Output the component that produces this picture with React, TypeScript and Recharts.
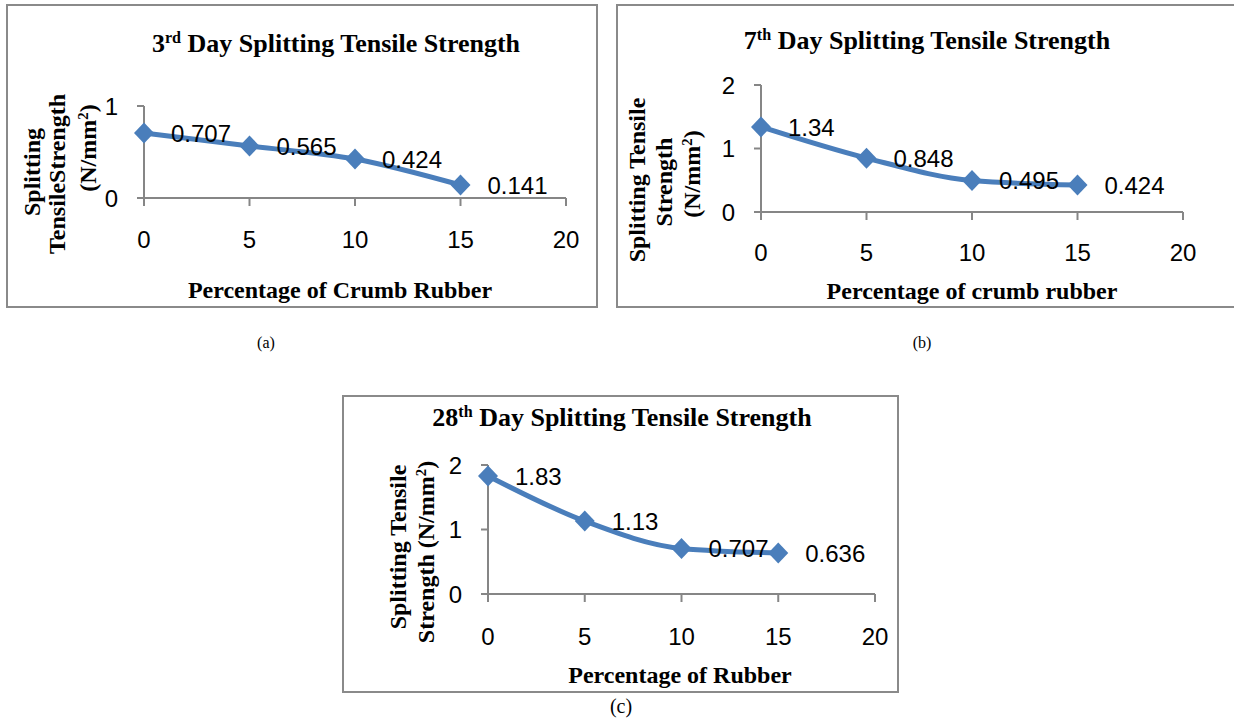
import React from "react";
import { LineChart, Line, XAxis, YAxis, LabelList } from "recharts";

// percentage of crumb rubber (x values)
const rubberPct = [0, 5, 10, 15];
const xTicks = [0, 5, 10, 15, 20];

// splitting tensile strength, N/mm2
const day3 = [0.707, 0.565, 0.424, 0.141];
const day7 = [1.34, 0.848, 0.495, 0.424];
const day28 = [1.83, 1.13, 0.707, 0.636];

const day3Ticks = [0, 1];
const day7Ticks = [0, 1, 2];
const day28Ticks = [0, 1, 2];

const BLUE = "#4a7ebb";
const AXIS = "#868686";
const SANS = "'Liberation Sans', Arial, sans-serif";
const SERIF = "'Liberation Serif', 'Times New Roman', serif";

const toRows = (ys: number[]) => rubberPct.map((x, i) => ({ x, v: ys[i] }));

const Diamond = (props: any) => {
  const { cx, cy } = props;
  if (cx == null || cy == null) return null;
  return (
    <polygon
      points={`${cx},${cy - 10.5} ${cx + 10},${cy} ${cx},${cy + 10.5} ${cx - 10},${cy}`}
      fill={BLUE}
    />
  );
};

const ValueLabel = (props: any) => {
  const { x, y, value } = props;
  return (
    <text x={x + 27} y={y} dy="0.36em" fontSize={24} fontFamily={SANS} fill="#000">
      {value}
    </text>
  );
};

type PanelProps = {
  box: { left: number; top: number; width: number; height: number };
  margin: { top: number; right: number; bottom: number; left: number };
  values: number[];
  yTicks: number[];
  xTickMargin: number;
};

function Panel({ box, margin, values, yTicks, xTickMargin }: PanelProps) {
  const tickStyle = { fill: "#000", fontSize: 24, fontFamily: SANS };
  return (
    <>
      <div
        style={{
          position: "absolute",
          left: box.left,
          top: box.top,
          width: box.width,
          height: box.height,
          border: "2px solid #8a8a8a",
          boxSizing: "border-box",
        }}
      />
      <div style={{ position: "absolute", left: box.left, top: box.top }}>
        <LineChart width={box.width} height={box.height} data={toRows(values)} margin={margin}>
          <XAxis
            dataKey="x"
            type="number"
            domain={[0, 20]}
            ticks={xTicks}
            height={50}
            tick={tickStyle}
            tickSize={8}
            tickMargin={xTickMargin}
            axisLine={{ stroke: AXIS, strokeWidth: 2 }}
            tickLine={{ stroke: AXIS, strokeWidth: 2 }}
          />
          <YAxis
            type="number"
            domain={[yTicks[0], yTicks[yTicks.length - 1]]}
            ticks={yTicks}
            width={40}
            tick={tickStyle}
            tickSize={7}
            tickMargin={19}
            axisLine={{ stroke: AXIS, strokeWidth: 2 }}
            tickLine={{ stroke: AXIS, strokeWidth: 2 }}
          />
          <Line
            type="monotone"
            dataKey="v"
            stroke={BLUE}
            strokeWidth={5}
            dot={<Diamond />}
            activeDot={false}
            isAnimationActive={false}
          >
            <LabelList dataKey="v" content={<ValueLabel />} />
          </Line>
        </LineChart>
      </div>
    </>
  );
}

function Txt({
  x,
  y,
  size,
  bold = true,
  rotate = false,
  children,
}: {
  x: number;
  y: number;
  size: number;
  bold?: boolean;
  rotate?: boolean;
  children: React.ReactNode;
}) {
  return (
    <div
      style={{
        position: "absolute",
        left: x,
        top: y,
        transform: `translate(-50%, -50%)${rotate ? " rotate(-90deg)" : ""}`,
        fontFamily: SERIF,
        fontWeight: bold ? "bold" : "normal",
        fontSize: size,
        lineHeight: 1,
        whiteSpace: "nowrap",
        color: "#000",
      }}
    >
      {children}
    </div>
  );
}

const sup = { fontSize: "0.62em", verticalAlign: "0.55em", lineHeight: 0 };

export default function App() {
  return (
    <div
      style={{
        position: "absolute",
        left: 0,
        top: 0,
        width: 1234,
        height: 722,
        background: "#fff",
        overflow: "hidden",
      }}
    >
      {/* (a) 3rd day */}
      <Panel
        box={{ left: 6, top: 4, width: 592, height: 304 }}
        margin={{ top: 102, right: 32, bottom: 60, left: 98 }}
        values={day3}
        yTicks={day3Ticks}
        xTickMargin={25}
      />
      <Txt x={336} y={44} size={26}>
        3<span style={sup}>rd</span> Day Splitting Tensile Strength
      </Txt>
      <Txt x={340} y={290} size={24}>Percentage of Crumb Rubber</Txt>
      <Txt x={32} y={172} size={24} rotate>Splitting</Txt>
      <Txt x={57} y={174} size={24} rotate>TensileStrength</Txt>
      <Txt x={88} y={148} size={24} rotate>
        (N/mm<span style={sup}>2</span>)
      </Txt>
      <Txt x={266} y={343} size={16} bold={false}>(a)</Txt>

      {/* (b) 7th day */}
      <Panel
        box={{ left: 616, top: 4, width: 620, height: 304 }}
        margin={{ top: 81, right: 53, bottom: 46, left: 105 }}
        values={day7}
        yTicks={day7Ticks}
        xTickMargin={24}
      />
      <Txt x={927} y={41} size={26}>
        7<span style={sup}>th</span> Day Splitting Tensile Strength
      </Txt>
      <Txt x={972} y={291} size={24}>Percentage of crumb rubber</Txt>
      <Txt x={637} y={180} size={24} rotate>Splitting Tensile</Txt>
      <Txt x={664} y={182} size={24} rotate>Strength</Txt>
      <Txt x={692} y={174} size={24} rotate>
        (N/mm<span style={sup}>2</span>)
      </Txt>
      <Txt x={922} y={343} size={16} bold={false}>(b)</Txt>

      {/* (c) 28th day */}
      <Panel
        box={{ left: 342, top: 395, width: 557, height: 298 }}
        margin={{ top: 70, right: 24, bottom: 49, left: 106 }}
        values={day28}
        yTicks={day28Ticks}
        xTickMargin={26}
      />
      <Txt x={622} y={418} size={26}>
        28<span style={sup}>th</span> Day Splitting Tensile Strength
      </Txt>
      <Txt x={680} y={675} size={24}>Percentage of Rubber</Txt>
      <Txt x={398} y={547} size={24} rotate>Splitting Tensile</Txt>
      <Txt x={426} y={552} size={24} rotate>
        Strength (N/mm<span style={sup}>2</span>)
      </Txt>
      <Txt x={621} y={706} size={20} bold={false}>(c)</Txt>
    </div>
  );
}
